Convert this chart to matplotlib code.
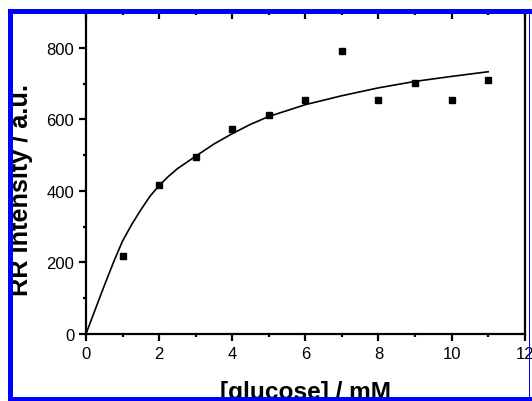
import matplotlib
matplotlib.use('Agg')
import matplotlib.pyplot as plt
from matplotlib.patches import Rectangle
from matplotlib.ticker import MultipleLocator

plt.rcParams['font.family'] = ['Liberation Sans', 'DejaVu Sans']

# measured points
glucose = [1, 2, 3, 4, 5, 6, 7, 8, 9, 10, 11]
intensity = [219, 417, 494, 573, 612, 654, 791, 655, 701, 655, 711]

# fitted curve
fit_x = [0, 0.25, 0.5, 0.75, 1, 1.25, 1.5, 1.75, 2, 2.25, 2.5, 3, 3.5, 4, 4.5, 5, 6, 7, 8, 9, 10, 11]
fit_y = [0, 68, 135, 200, 260, 306, 347, 385, 415, 440, 462, 497, 531, 560, 586, 608, 641, 666, 688, 706, 720, 733]

fig = plt.figure(figsize=(5.32, 4.02), dpi=100)
ax = fig.add_axes([86/532, 1-335/402, (524.7-86)/532, (335-13)/402])

ax.plot(fit_x, fit_y, color='k', lw=1.2, zorder=2)
ax.plot(glucose, intensity, 's', color='k', ms=5, zorder=3)

ax.set_xlim(0, 12)
ax.set_ylim(0, 900)
ax.xaxis.set_major_locator(MultipleLocator(2))
ax.xaxis.set_minor_locator(MultipleLocator(1))
ax.yaxis.set_major_locator(MultipleLocator(200))
ax.yaxis.set_minor_locator(MultipleLocator(100))

for s in ax.spines.values():
    s.set_linewidth(1.6)

ax.tick_params(which='both', direction='out', top=True, right=False,
               labelsize=12, width=1.6)
ax.tick_params(which='major', length=5)
ax.tick_params(which='minor', length=2.5)
# top ticks point inwards
for t in ax.xaxis.get_major_ticks() + ax.xaxis.get_minor_ticks():
    t.tick2line.set_marker(matplotlib.lines.TICKDOWN)

ax.set_xlabel('[glucose] / mM', fontsize=17.6, fontweight='bold')
ax.set_ylabel('RR Intensity / a.u.', fontsize=18.2, fontweight='bold')
ax.xaxis.set_label_coords(0.5, -0.144)
ax.yaxis.set_label_coords(-0.121, 0.449)

# blue frame of the picture
blue = '#0000ff'
W, H = 532, 402
for (x0, y0, w, h) in [(8, 0, 5, 392), (8, 387, 524, 5), (8, 0, 524, 4.5), (529, 0, 1, 392)]:
    fig.patches.append(Rectangle((x0/W, y0/H), w/W, h/H, transform=fig.transFigure,
                                 facecolor=blue, edgecolor='none', zorder=10))

fig.savefig('out.png', dpi=100)
